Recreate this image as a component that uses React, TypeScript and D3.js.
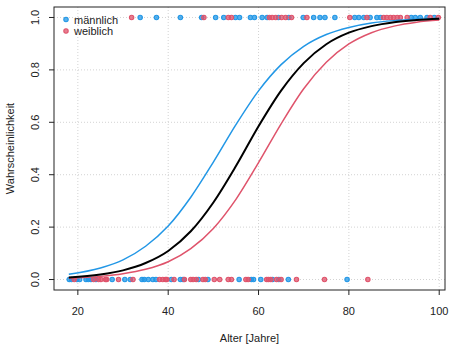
import * as d3 from 'd3';

// observed outcomes (age in years), 1 = event, 0 = no event
const maleYes = [33.8, 37.4, 42.7, 47.4, 50.5, 52.3, 54.9, 55.8, 58.2, 59.1, 60.8, 61.9, 64.4, 66.7, 69.9, 72.2, 73.6, 74.7, 76.9, 81.3, 82.2, 83.3, 84.7, 86.2, 87, 93.8, 94.7, 95.8, 97.3, 98.9];
const femaleYes = [31.9, 47.9, 53.3, 54, 62.4, 63, 63.8, 65.1, 66, 67.3, 70.7, 80.2, 84, 87.7, 88.4, 89.2, 89.9, 90.7, 91.4, 92.9, 98, 99.8];
const maleNo = [18.1, 18.6, 19.8, 20.4, 21.8, 22.3, 22.9, 24, 27.6, 30.4, 31.6, 34.2, 34.7, 35.6, 36.6, 37.3, 40.7, 42.7, 43.3, 46.7, 48.8, 55.7, 58.4, 58.9, 60.5, 63.1, 64.5, 66.6, 79.6];
const femaleNo = [19.2, 23.5, 24.6, 25.1, 26.1, 26.4, 29, 32.2, 38.1, 38.8, 39.4, 39.7, 41.3, 43.6, 45, 45.5, 46.2, 47.7, 48.2, 50.2, 51.4, 53.3, 54, 57.2, 57.7, 61.8, 62.2, 62.7, 64, 65, 68.4, 74.6, 84.2];

const curveAges = [18, 25, 30, 35, 40, 45, 50, 55, 60, 65, 70, 75, 80, 85, 90, 95, 100];
const probAll = [0.008, 0.019, 0.035, 0.063, 0.109, 0.184, 0.294, 0.433, 0.585, 0.721, 0.826, 0.898, 0.942, 0.967, 0.982, 0.99, 0.995];
const probMale = [0.02, 0.044, 0.075, 0.127, 0.204, 0.314, 0.448, 0.591, 0.72, 0.82, 0.89, 0.935, 0.962, 0.979, 0.988, 0.993, 0.996];
const probFemale = [0.005, 0.012, 0.022, 0.039, 0.068, 0.118, 0.195, 0.306, 0.446, 0.594, 0.728, 0.829, 0.899, 0.942, 0.967, 0.982, 0.99];

const xTicks = [20, 40, 60, 80, 100];
const yTicks = [0, 0.2, 0.4, 0.6, 0.8, 1.0];

const BLUE = '#2297E6';
const RED = '#DF536B';

export default function App() {
  const width = 474;
  const height = 351;
  const box = { left: 54, right: 445, top: 7, bottom: 290 };

  const x = d3.scaleLinear().domain([14.72, 101.28]).range([box.left, box.right]);
  const y = d3.scaleLinear().domain([-0.04, 1.04]).range([box.bottom, box.top]);

  const line = d3.line<number>()
    .x((_, i) => x(curveAges[i]))
    .y(d => y(d))
    .curve(d3.curveMonotoneX);

  const font = 'Arial, "Liberation Sans", sans-serif';

  const dots = (ages: number[], val: number, color: string, key: string) =>
    ages.map((a, i) => (
      <circle key={key + i} cx={x(a)} cy={y(val)} r={2.2} fill={color} fillOpacity={0.75} stroke={color} strokeWidth={1.1} />
    ));

  return (
    <svg width={width} height={height} style={{ position: 'absolute', left: 0, top: 0, background: '#fff' }} fontFamily={font}>
      {/* grid */}
      {xTicks.map(t => (
        <line key={'gx' + t} x1={x(t)} x2={x(t)} y1={box.top} y2={box.bottom} stroke="#d3d3d3" strokeDasharray="1,2" />
      ))}
      {yTicks.map(t => (
        <line key={'gy' + t} x1={box.left} x2={box.right} y1={y(t)} y2={y(t)} stroke="#d3d3d3" strokeDasharray="1,2" />
      ))}

      {dots(maleNo, 0, BLUE, 'mn')}
      {dots(femaleNo, 0, RED, 'fn')}
      {dots(maleYes, 1, BLUE, 'my')}
      {dots(femaleYes, 1, RED, 'fy')}

      <path d={line(probMale) || ''} fill="none" stroke={BLUE} strokeWidth={1.5} />
      <path d={line(probFemale) || ''} fill="none" stroke={RED} strokeWidth={1.5} />
      <path d={line(probAll) || ''} fill="none" stroke="#000" strokeWidth={2} />

      {/* box */}
      <rect x={box.left} y={box.top} width={box.right - box.left} height={box.bottom - box.top} fill="none" stroke="#222" strokeWidth={1} />

      {/* x axis */}
      {xTicks.map(t => (
        <g key={'xt' + t}>
          <line x1={x(t)} x2={x(t)} y1={box.bottom} y2={box.bottom + 5} stroke="#222" />
          <text x={x(t)} y={315} textAnchor="middle" fontSize={11} fill="#222">{t}</text>
        </g>
      ))}
      <text x={(box.left + box.right) / 2} y={342} textAnchor="middle" fontSize={11} fill="#222">Alter [Jahre]</text>

      {/* y axis */}
      {yTicks.map(t => (
        <g key={'yt' + t}>
          <line x1={box.left - 5} x2={box.left} y1={y(t)} y2={y(t)} stroke="#222" />
          <text transform={`translate(39,${y(t)}) rotate(-90)`} textAnchor="middle" fontSize={11} fill="#222">{t.toFixed(1)}</text>
        </g>
      ))}
      <text transform={`translate(14,${(box.top + box.bottom) / 2}) rotate(-90)`} textAnchor="middle" fontSize={11} fill="#222">Wahrscheinlichkeit</text>

      {/* legend */}
      <circle cx={66} cy={19.5} r={2.2} fill={BLUE} fillOpacity={0.75} stroke={BLUE} strokeWidth={1.1} />
      <text x={74} y={23.5} fontSize={11} fill="#222">männlich</text>
      <circle cx={66} cy={31} r={2.2} fill={RED} fillOpacity={0.75} stroke={RED} strokeWidth={1.1} />
      <text x={74} y={35} fontSize={11} fill="#222">weiblich</text>
    </svg>
  );
}
